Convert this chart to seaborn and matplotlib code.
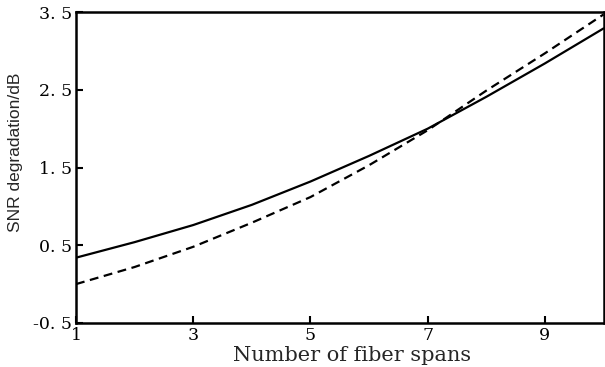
import numpy as np
import pandas as pd
import matplotlib
matplotlib.use("Agg")
import matplotlib.pyplot as plt
import seaborn as sns

# ── Dados ─────────────────────────────────────────────────────────────────────
spans       = [1, 2, 3, 4, 5, 6, 7, 8, 9, 10]
snr_solid   = [0.34, 0.54, 0.76, 1.02, 1.32, 1.65, 2.00, 2.41, 2.84, 3.29]
snr_dashed  = [0.00, 0.22, 0.48, 0.79, 1.12, 1.53, 1.98, 2.49, 2.97, 3.47]
x_ticks     = [1, 3, 5, 7, 9]
y_ticks     = [-0.5, 0.5, 1.5, 2.5, 3.5]
y_labels    = ["-0. 5", "0. 5", "1. 5", "2. 5", "3. 5"]

df = pd.DataFrame({
    "spans": spans * 2,
    "snr":   snr_solid + snr_dashed,
    "curve": ["solid"] * len(spans) + ["dashed"] * len(spans),
})

sns.set_style("ticks")
plt.rcParams["font.family"] = ["DejaVu Serif"]

fig = plt.figure(figsize=(6.05, 3.67), dpi=100)
ax = fig.add_axes([0.1256, 0.12, 0.872, 0.847])

sns.lineplot(data=df, x="spans", y="snr", style="curve",
             dashes={"solid": "", "dashed": (4, 2.5)},
             color="black", linewidth=1.6, legend=False, ax=ax)

ax.set_xlim(1, 10)
ax.set_ylim(-0.5, 3.5)
ax.set_xticks(x_ticks)
ax.set_yticks(y_ticks)
ax.set_yticklabels(y_labels)

for s in ax.spines.values():
    s.set_linewidth(1.8)
    s.set_color("black")
    s.set_visible(True)

ax.tick_params(direction="in", length=5, width=1.5, labelsize=12.5,
               colors="black", pad=3)

ax.set_xlabel("Number of fiber spans", fontsize=15)
ax.xaxis.set_label_coords(0.523, -0.075)
ax.set_ylabel("SNR degradation/dB", fontsize=12.5,
              family=["Liberation Sans", "DejaVu Sans"])
ax.yaxis.set_label_coords(-0.1, 0.55)

plt.savefig("out.png", dpi=100)
